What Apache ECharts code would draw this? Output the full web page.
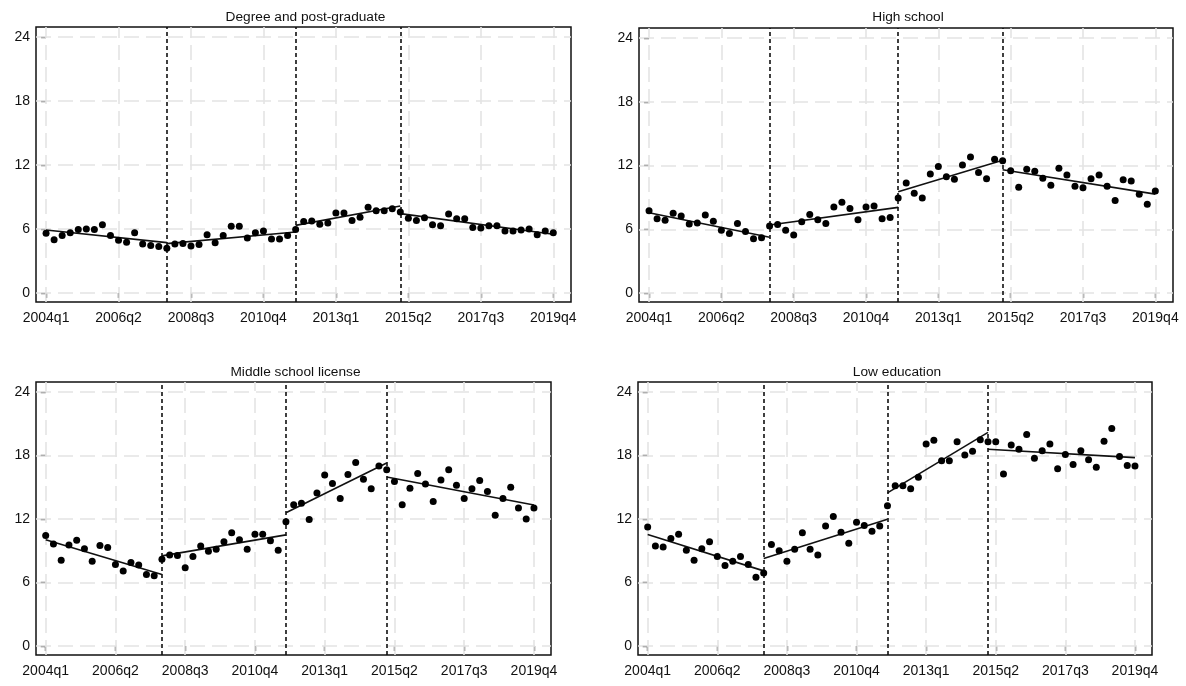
<!DOCTYPE html>
<html>
<head>
<meta charset="utf-8">
<title>Unemployment rate by education</title>
<script src="https://cdn.jsdelivr.net/npm/echarts@6/dist/echarts.min.js"></script>
<style>body{margin:0;background:#fff;}</style>
</head>
<body>
<div id="main" style="width:1186px;height:686px;"></div>
<script type="text/javascript">
// quarter index 0 = 2004q1 ... 63 = 2019q4
var tickPos = [0, 9, 18, 27, 36, 45, 54, 63];
var tickLabels = ['2004q1', '2006q2', '2008q3', '2010q4', '2013q1', '2015q2', '2017q3', '2019q4'];
var yTicks = [0, 6, 12, 18, 24];
var breaks = [15, 31, 44];

var titles = ['Degree and post-graduate', 'High school', 'Middle school license', 'Low education'];

var degree = [5.6,5.0,5.4,5.65,5.95,6.0,5.95,6.4,5.4,4.95,
  4.75,5.65,4.6,4.45,4.35,4.2,4.6,4.65,4.4,4.55,
  5.45,4.7,5.4,6.25,6.25,5.15,5.65,5.8,5.05,5.05,
  5.4,5.95,6.7,6.75,6.45,6.55,7.5,7.5,6.8,7.1,
  8.05,7.7,7.7,7.9,7.6,7.0,6.8,7.05,6.4,6.3,
  7.4,6.95,6.95,6.15,6.1,6.3,6.3,5.8,5.8,5.9,
  6.0,5.45,5.8,5.65];
var highSchool = [7.75,7.0,6.85,7.5,7.25,6.5,6.6,7.35,6.75,5.9,
  5.6,6.55,5.8,5.1,5.2,6.3,6.45,5.9,5.45,6.7,
  7.4,6.9,6.55,8.1,8.55,7.95,6.9,8.1,8.2,7.0,
  7.1,8.95,10.35,9.4,8.95,11.2,11.9,10.95,10.7,12.05,
  12.8,11.35,10.75,12.6,12.45,11.5,9.95,11.65,11.45,10.8,
  10.15,11.75,11.1,10.05,9.9,10.75,11.1,10.05,8.7,10.65,
  10.55,9.3,8.35,9.6];
var middleSchool = [10.45,9.65,8.1,9.55,10.0,9.2,8.0,9.5,9.3,7.7,
  7.1,7.9,7.65,6.75,6.65,8.2,8.6,8.55,7.4,8.45,
  9.45,8.95,9.15,9.85,10.7,10.05,9.15,10.55,10.55,9.95,
  9.05,11.75,13.35,13.5,11.95,14.45,16.15,15.35,13.95,16.2,
  17.35,15.75,14.85,17.0,16.65,15.55,13.35,14.9,16.3,15.3,
  13.65,15.7,16.65,15.2,13.95,14.85,15.65,14.6,12.35,13.95,
  15.0,13.05,12.0,13.05];
var lowEdu = [11.25,9.45,9.35,10.15,10.55,9.05,8.1,9.2,9.85,8.45,
  7.6,8.0,8.45,7.7,6.5,6.9,9.6,9.0,8.0,9.15,
  10.7,9.15,8.6,11.35,12.25,10.75,9.7,11.7,11.4,10.85,
  11.35,13.25,15.15,15.15,14.85,15.95,19.1,19.45,17.5,17.5,
  19.3,18.05,18.4,19.5,19.3,19.3,16.25,19.0,18.6,20.0,
  17.75,18.45,19.1,16.75,18.1,17.15,18.45,17.6,16.9,19.35,
  20.55,17.9,17.05,17.0];

// fitted segments: [x start, y start, x end, y end]
var degreeTrend = [[0,5.9,15,4.72],[15,4.63,31,5.72],[31,6.34,44,8.16],[44,7.44,63,5.5]];
var highTrend = [[0,7.55,15,5.25],[15,6.4,31,8.06],[31,9.53,44,12.5],[44,11.6,63,9.31]];
var middleTrend = [[0,10.05,15,6.76],[15,8.52,31,10.5],[31,12.6,44,17.3],[44,15.97,63,13.33]];
var lowTrend = [[0,10.53,15,7.1],[15,8.27,31,11.98],[31,14.47,44,20.19],[44,18.6,63,17.8]];

var panelData = [degree, highSchool, middleSchool, lowEdu];
var panelTrend = [degreeTrend, highTrend, middleTrend, lowTrend];

var boxes = [
  {left: 36, top: 27, width: 535, height: 275},
  {left: 639, top: 28, width: 534, height: 274},
  {left: 36, top: 382, width: 515, height: 273},
  {left: 638, top: 382, width: 514, height: 273}
];
var titleY = [17, 17, 372, 372];

var font = '"Liberation Sans", Arial, sans-serif';

var myChart = echarts.init(document.getElementById('main'));

var grids = [], xAxes = [], yAxes = [], series = [], graphics = [];

boxes.forEach(function (b, i) {
  grids.push({
    left: b.left, top: b.top, width: b.width, height: b.height,
    show: true, borderColor: '#111', borderWidth: 1.5, backgroundColor: '#fff'
  });
  xAxes.push({
    gridIndex: i, type: 'value', min: -1.25, max: 65.2,
    axisLine: {show: false},
    axisTick: {show: true, customValues: tickPos, length: 5, lineStyle: {color: '#111', width: 1.3}},
    axisLabel: {
      customValues: tickPos, margin: 9, color: '#111', fontSize: 14, fontFamily: font,
      formatter: function (v) { return tickLabels[tickPos.indexOf(v)]; }
    },
    splitLine: {show: false}
  });
  yAxes.push({
    gridIndex: i, type: 'value', min: -0.85, max: 24.95,
    axisLine: {show: false},
    axisTick: {show: true, customValues: yTicks, length: 5, lineStyle: {color: '#111', width: 1.3}},
    axisLabel: {customValues: yTicks, margin: 6, color: '#111', fontSize: 14, fontFamily: font},
    splitLine: {show: false}
  });

  // light dashed grid
  series.push({
    type: 'line', xAxisIndex: i, yAxisIndex: i, data: [], z: 1, silent: true,
    markLine: {
      z: 1, silent: true, symbol: ['none', 'none'], label: {show: false}, animation: false,
      lineStyle: {color: '#e4e4e4', width: 1.6, type: [15, 7]},
      emphasis: {disabled: true},
      data: tickPos.map(function (v) { return {xAxis: v}; })
        .concat(yTicks.map(function (v) { return {yAxis: v}; }))
    }
  });
  // break lines
  series.push({
    type: 'line', xAxisIndex: i, yAxisIndex: i, data: [], z: 2, silent: true,
    markLine: {
      z: 2, silent: true, symbol: ['none', 'none'], label: {show: false}, animation: false,
      lineStyle: {color: '#111', width: 1.6, type: [4, 3]},
      emphasis: {disabled: true},
      data: breaks.map(function (v) { return {xAxis: v}; })
    }
  });
  panelTrend[i].forEach(function (s) {
    series.push({
      type: 'line', xAxisIndex: i, yAxisIndex: i, z: 3, silent: true,
      showSymbol: false, lineStyle: {color: '#111', width: 1.6},
      data: [[s[0], s[1]], [s[2], s[3]]]
    });
  });
  series.push({
    type: 'scatter', xAxisIndex: i, yAxisIndex: i, z: 4, silent: true,
    symbolSize: 7, itemStyle: {color: '#000', opacity: 1},
    data: panelData[i].map(function (v, k) { return [k, v]; })
  });

  graphics.push({
    type: 'text', x: b.left + b.width / 2 + 2, y: titleY[i],
    style: {text: titles[i], font: '13.7px ' + font, fill: '#111', textAlign: 'center', textVerticalAlign: 'middle'}
  });
});

myChart.setOption({
  animation: false,
  backgroundColor: '#fff',
  grid: grids,
  xAxis: xAxes,
  yAxis: yAxes,
  series: series,
  graphic: graphics
});
</script>
</body>
</html>
